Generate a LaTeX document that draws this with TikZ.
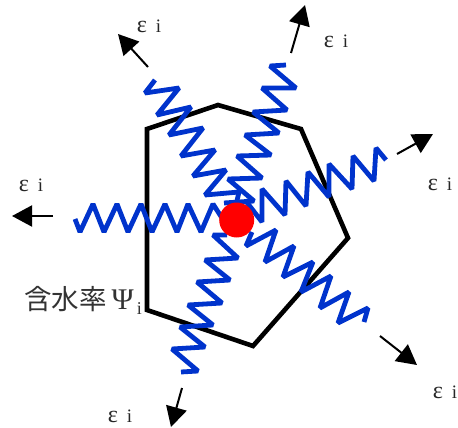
\documentclass[tikz,border=0pt]{standalone}
\usepackage{fontspec}
\setmainfont{Liberation Serif}
\newfontfamily\cjk{Noto Sans CJK JP}
\usetikzlibrary{arrows.meta}
\definecolor{springblue}{RGB}{0,51,204}
\tikzset{
  wall/.style={draw=black, line width=4.6pt, line join=miter},
  spring/.style={draw=springblue, line width=4.8pt, line join=bevel},
  heat/.style={circle, fill=red, draw=none, minimum size=35pt, inner sep=0pt},
  flux/.style={-{Triangle[length=20pt,width=21pt]}, line width=2pt, draw=black},
  emission/.style={font=\fontsize{19}{19}\selectfont, text=black!85, inner sep=0pt}
}
\newcommand{\epsi}{{\fontsize{24}{24}\selectfont ε}\hspace{9pt}i}
\begin{document}
\begin{tikzpicture}[x=1pt,y=-1pt]
\useasboundingbox (0,0) rectangle (458,428);

% Body outline
\draw[wall] (147,129) -- (218,105) -- (301,129) -- (348,238) -- (253,346) -- (147,310) -- cycle;

% Springs, one per direction
\draw[spring] (75,219) -- (80,232) -- (93,204) -- (104,232) -- (117,204) -- (128,232) -- (141,204) -- (152,232) -- (165,204) -- (177,232) -- (188,204) -- (201,232) -- (213,204) -- (222,218);
\draw[spring] (155,80) -- (145,93) -- (179,88) -- (157,115) -- (191,107) -- (169,135) -- (203,128) -- (181,156) -- (215,150) -- (193,176) -- (226,170) -- (205,195) -- (239,192) -- (236,205);
\draw[spring] (286,65) -- (270,66) -- (296,88) -- (262,88) -- (287,110) -- (253,112) -- (279,133) -- (245,135) -- (271,155) -- (237,156) -- (262,178) -- (228,179) -- (254,201) -- (224,203);
\draw[spring] (386,160) -- (376,148) -- (374,181) -- (353,156) -- (352,189) -- (329,164) -- (329,197) -- (308,172) -- (306,206) -- (286,181) -- (285,215) -- (262,189) -- (262,222) -- (245,200);
\draw[spring] (364,322) -- (368,308) -- (338,323) -- (349,292) -- (320,308) -- (331,276) -- (301,292) -- (313,262) -- (283,277) -- (294,246) -- (265,262) -- (276,230) -- (246,246) -- (252,232);
\draw[spring] (181,372) -- (198,371) -- (172,349) -- (205,347) -- (180,327) -- (213,325) -- (188,305) -- (222,303) -- (197,282) -- (230,280) -- (205,260) -- (238,258) -- (213,235) -- (227,235);

% Centre
\node[heat] (core) at (236.7,220) {};

% Arrow ends
\coordinate (nwtail) at (148,67);   \coordinate (nwtip) at (118,34);
\coordinate (ntail) at (291,53);    \coordinate (ntip) at (305,5);
\coordinate (netail) at (397,154);  \coordinate (netip) at (433,134);
\coordinate (wtail) at (53,216);    \coordinate (wtip) at (12,216);
\coordinate (setail) at (380,336);  \coordinate (setip) at (417,365);
\coordinate (stail) at (182,388);   \coordinate (stip) at (171,427);
\foreach \a/\b in {nwtail/nwtip, ntail/ntip, netail/netip, wtail/wtip, setail/setip, stail/stip}
  \draw[flux] (\a) -- (\b);

% Labels
\node[emission] (nwlabel) at (149,26) {\epsi};
\node[emission] (nlabel) at (336,41) {\epsi};
\node[emission] (nelabel) at (440,184) {\epsi};
\node[emission] (wlabel) at (31,185) {\epsi};
\node[emission] (slabel) at (120,416) {\epsi};
\node[emission] (selabel) at (445,392) {\epsi};
\node[anchor=west, inner sep=0pt, text=black!80] (water) at (24,300)
  {{\cjk\fontsize{27.5}{27.5}\selectfont 含水率}\hspace{5pt}\fontsize{30}{30}\selectfont Ψ\hspace{3pt}\raisebox{-5pt}{\fontsize{18}{18}\selectfont i}};

\end{tikzpicture}
\end{document}
